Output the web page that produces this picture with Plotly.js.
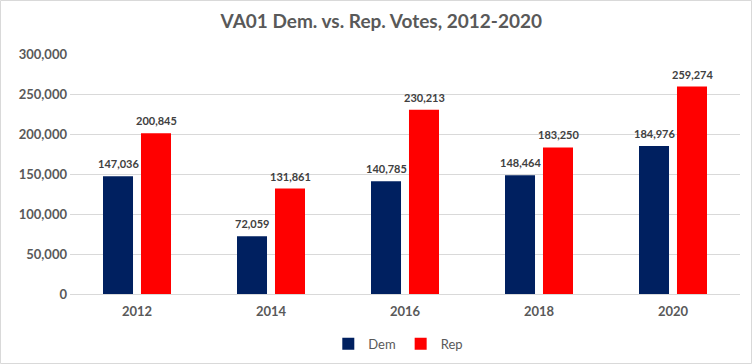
<!DOCTYPE html>
<html><head><meta charset="utf-8">
<script src="https://cdn.plot.ly/plotly-3.0.1.min.js"></script>
<style>html,body{margin:0;padding:0;background:#fff}#c{width:752px;height:364px}</style>
</head><body><div id="c"></div>
<script>
const years = ['2012','2014','2016','2018','2020'];
const dem = [147036, 72059, 140785, 148464, 184976];
const rep = [200845, 131861, 230213, 183250, 259274];
const yTicks = [0, 50000, 100000, 150000, 200000, 250000, 300000];
const fmt = v => v.toLocaleString('en-US');
const FF = 'Lato, "Open Sans", sans-serif';
const lblFont = {family: FF, size: 11, color: '#404040', weight: 'bold'};
const traces = [
  {type: 'bar', name: 'Dem', x: years, y: dem, marker: {color: '#002060'}, hoverinfo: 'none'},
  {type: 'bar', name: 'Rep', x: years, y: rep, marker: {color: '#FF0000'}, hoverinfo: 'none'}
];
const mkLabels = (vals, shift) => vals.map((v, i) => ({
  x: i, y: v, xref: 'x', yref: 'y', text: fmt(v), showarrow: false,
  xshift: shift, yshift: 4, yanchor: 'bottom', font: lblFont
}));
const layout = {
  width: 752, height: 364,
  margin: {l: 70, r: 12, t: 54, b: 70, autoexpand: false},
  paper_bgcolor: '#fff', plot_bgcolor: '#fff',
  title: {text: 'VA01 Dem. vs. Rep. Votes, 2012-2020', x: 0.507, xanchor: 'center', y: 0.94, yanchor: 'middle',
          font: {family: FF, size: 19, color: '#595959', weight: 'bold'}},
  barmode: 'group', bargap: 0.433, bargroupgap: 0.21,
  xaxis: {type: 'category', range: [-0.5, years.length - 0.5], showgrid: false, zeroline: false, showline: false, ticks: '', ticklabelstandoff: 8,
          tickfont: {family: FF, size: 13, color: '#595959', weight: 'bold'}},
  yaxis: {range: [0, 300000], tickvals: yTicks, ticktext: yTicks.map(fmt), showgrid: true, gridcolor: '#d9d9d9',
          gridwidth: 1, zeroline: true, zerolinecolor: '#d9d9d9', showline: false, ticks: '', ticklabelstandoff: 2,
          tickfont: {family: FF, size: 13, color: '#595959', weight: 'bold'}},
  legend: {orientation: 'h', x: 0.49, xanchor: 'center', y: -0.145, yanchor: 'top',
           font: {family: FF, size: 13, color: '#595959'}, itemwidth: 30, traceorder: 'normal'},
  annotations: mkLabels(dem, -19).concat(mkLabels(rep, 19)),
  shapes: [{type: 'rect', xref: 'paper', yref: 'paper', x0: -0.1037, x1: 1.0172, y0: -0.2896, y1: 1.2229,
            line: {color: '#d9d9d9', width: 1}, fillcolor: 'rgba(0,0,0,0)'}],
  showlegend: true
};
Plotly.newPlot('c', traces, layout, {displayModeBar: false, staticPlot: true});
</script></body></html>
